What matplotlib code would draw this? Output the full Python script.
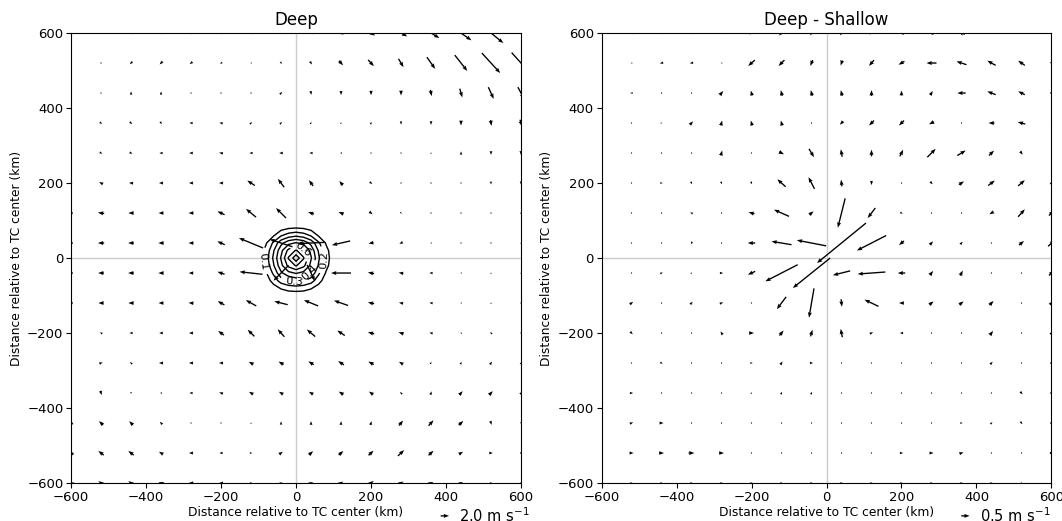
# Storm-relative flow composite: Deep and Deep - Shallow
import numpy as np
import matplotlib
matplotlib.use("Agg")
import matplotlib.pyplot as plt

# grid of the vectors (km from TC center), rows listed from north to south
x_km = np.arange(-600, 601, 80)
y_km = np.arange(600, -601, -80)

# ---- Deep (m/s) ----
u_deep = [
    [0.2, 0.2, 0.2, 0.2, 0.2, 0.2, 0.2, 0.2, 0.8, 1.2, 2.0, 3.0, 4.0, 5.0, 5.9, 6.0],
    [0.3, 0.2, -0.6, -0.7, -0.7, -0.6, -0.4, 0.2, 0.5, 1.0, 1.4, 1.2, 2.0, 3.0, 4.4, 4.5],
    [0.0, 0.2, 0.0, 0.0, 0.0, 0.0, 0.2, 0.5, 0.2, 0.0, 0.0, 0.0, 0.3, 0.6, 1.3, 1.5],
    [0.4, 0.6, 0.6, 0.4, -0.8, -0.8, 0.5, 0.5, 0.4, 0.2, 0.2, 0.0, 0.0, 0.0, 0.2, 0.5],
    [0.3, 0.6, 0.7, -0.8, -0.9, -0.9, -0.8, -0.9, -0.8, -0.5, -0.2, 0.0, 0.1, 0.0, 0.0, 0.0],
    [-0.5, -0.9, -1.0, -1.0, -1.0, -1.0, -1.8, -1.5, -1.0, -0.8, 0.6, 0.3, 0.1, 0.0, 0.1, 0.0],
    [-0.8, -1.5, -1.3, -1.2, -1.2, -1.7, -2.4, -2.4, -1.4, -1.2, 0.8, 0.4, 0.2, 0.1, 0.1, 0.0],
    [-0.8, -1.5, -1.4, -1.3, -1.2, -1.8, -5.8, -5.5, -6.5, -4.4, -1.2, -0.8, -0.4, -0.2, 0.0, 0.0],
    [-0.8, -1.4, -1.4, -1.3, -1.1, -1.7, -5.5, -3.6, 1.9, -4.8, -1.5, -1.1, -0.8, -0.4, 0.0, 0.0],
    [-0.8, -1.3, -1.3, -1.2, -1.2, -1.6, -2.5, -3.2, -3.4, -3.4, -1.5, -1.0, -0.8, -0.4, 0.0, 0.0],
    [-0.4, -0.6, -0.8, -0.9, -1.0, -1.4, -1.6, -1.6, -2.0, -1.8, -1.5, -1.2, -0.8, -0.4, -0.5, 0.0],
    [0.5, 0.8, -0.5, -1.0, -1.0, -1.0, -1.1, -1.2, -1.3, -1.4, -1.3, -1.0, 0.5, 0.3, 0.5, 0.3],
    [0.0, 0.3, 0.0, -0.5, -0.8, -0.9, -1.0, -1.0, -1.0, -1.1, -1.0, -0.5, 0.3, 0.8, 0.9, 0.5],
    [-0.8, -1.0, -0.9, -0.6, 0.0, 0.0, 0.0, 0.0, 0.0, 0.1, 0.3, 1.0, 1.2, 1.1, 0.3, 0.0],
    [-1.0, -1.3, -1.3, -1.0, -1.0, -0.8, 0.6, 0.9, 1.0, 1.1, 1.2, 1.5, 1.2, 1.0, 0.9, 0.5],
    [-1.1, -1.3, -1.3, -1.2, -1.1, -1.0, 0.6, 0.7, 1.0, 1.1, 1.3, 1.2, 1.1, 1.0, 0.6, 0.4],
]
v_deep = [
    [-0.4, -0.4, -0.7, -0.7, -0.7, -0.7, -0.7, -0.6, -0.6, -0.8, -1.2, -1.6, -2.4, -3.5, -4.8, -5.0],
    [0.0, 0.0, -0.6, -0.7, -0.5, -0.2, 0.0, -0.6, -0.7, -1.1, -1.5, -2.0, -2.8, -3.8, -4.8, -5.0],
    [0.3, 0.2, 0.8, 0.8, 0.2, 0.0, 0.2, 0.6, -0.9, -1.0, -1.1, -1.2, -1.5, -2.1, -2.8, -2.8],
    [0.0, -0.4, -0.5, -0.6, 0.0, 0.2, 0.5, 0.5, 0.4, 0.4, 0.6, -0.8, -0.9, -1.2, -1.4, -1.6],
    [0.0, -0.4, -0.3, 0.0, 0.0, 0.2, 0.0, 0.0, 0.0, 0.0, 0.0, 0.2, 0.4, 0.8, -0.9, -1.0],
    [0.2, 0.5, 0.1, 0.0, 0.0, 0.0, 1.2, 2.0, 1.4, 1.0, -0.5, -0.1, 0.1, 0.3, -0.7, -0.8],
    [0.1, 0.2, 0.0, 0.0, 0.0, 0.8, 2.0, 2.4, 0.5, 0.5, -0.6, -0.3, 0.0, 0.0, 0.1, 0.5],
    [0.0, 0.0, 0.0, 0.0, 0.0, 0.8, 2.4, 1.8, -0.3, -1.0, -0.2, -0.4, 0.0, 0.0, 0.3, 0.4],
    [0.0, 0.0, 0.0, 0.0, 0.0, 0.6, 0.6, -3.7, -3.9, 0.0, 0.3, 0.2, 0.0, 0.0, 0.4, 0.4],
    [0.0, 0.0, 0.0, 0.0, 0.1, 0.9, 1.4, 0.8, 1.4, 1.2, 0.3, 0.2, 0.1, 0.0, 0.4, 0.3],
    [0.2, 0.3, 0.0, 0.0, 0.0, 1.0, 1.6, 1.8, 1.7, 1.2, 0.4, 0.4, 0.2, 0.2, 0.4, 0.3],
    [0.3, 0.3, 0.5, 0.0, 0.0, 0.0, 0.6, 0.7, 0.8, 0.9, 0.7, 0.6, 0.3, 0.6, 0.7, 0.5],
    [-0.5, -1.0, -0.5, 0.0, 0.0, 0.3, 0.6, 0.6, 0.6, 0.7, 0.7, 0.5, 0.8, 0.9, 0.9, 0.5],
    [0.6, 0.9, 0.9, 0.6, 0.2, 0.2, 0.4, 0.8, 0.9, 0.9, 0.9, 1.2, 1.3, 1.0, -0.9, -0.5],
    [0.8, 1.0, 1.0, 0.6, 0.0, 0.0, 0.0, 0.6, 0.9, 1.0, 1.1, 1.4, 1.1, 0.6, 0.0, 0.0],
    [0.7, 0.9, 0.9, 0.4, 0.0, 0.0, 0.0, 0.2, 0.4, 0.7, 1.0, 0.7, 0.5, 0.4, 0.0, 0.0],
]

# ---- Deep - Shallow (m/s) ----
u_diff = [
    [0.15, 0.15, 0.15, 0.15, 0.15, -0.3, -0.3, -0.15, -0.15, -0.3, -0.3, -0.4, -0.4, -0.15, -0.15, 0.0],
    [0.0, -0.1, -0.2, -0.2, -0.1, -0.4, -0.35, -0.15, -0.1, -0.3, -0.35, -0.6, -0.6, -0.5, -0.4, -0.2],
    [0.0, -0.15, 0.0, 0.0, 0.2, -0.08, -0.08, -0.08, -0.08, 0.0, 0.0, 0.15, -0.5, -0.5, -0.4, 0.15],
    [0.0, 0.0, 0.1, 0.2, 0.08, -0.08, -0.08, 0.0, -0.2, -0.3, -0.3, -0.3, 0.0, -0.35, -0.45, 0.0],
    [0.0, 0.0, 0.0, 0.0, 0.08, 0.0, 0.3, 0.3, -0.08, 0.0, 0.2, 0.5, 0.5, 0.3, 0.15, 0.0],
    [0.0, 0.0, 0.15, 0.08, 0.08, 0.08, -0.5, -0.36, -0.05, 0.0, 0.08, 0.15, 0.3, 0.4, 0.4, 0.15],
    [0.0, 0.0, 0.0, -0.15, 0.0, -0.35, -0.9, 0.25, -0.44, -0.46, 0.15, 0.0, 0.0, -0.25, 0.4, 0.3],
    [0.0, 0.0, 0.0, -0.08, 0.0, -0.45, -1.2, -1.76, -2.94, -1.76, -0.3, 0.2, 0.15, 0.0, 0.3, 0.4],
    [0.0, 0.0, 0.15, 0.08, 0.2, -0.44, -1.94, -2.24, -1.04, -1.66, -0.45, 0.2, 0.15, 0.0, 0.0, 0.3],
    [0.0, 0.2, 0.0, 0.15, 0.2, 0.0, -0.56, -0.3, 0.05, -0.84, -0.3, 0.25, 0.25, 0.25, 0.0, 0.2],
    [0.0, 0.15, 0.0, 0.0, -0.12, 0.3, 0.25, 0.12, -0.1, 0.2, -0.2, 0.0, 0.0, 0.2, 0.0, 0.15],
    [0.0, 0.0, 0.15, 0.0, 0.0, 0.15, 0.12, 0.2, 0.08, 0.0, 0.0, 0.0, 0.0, 0.15, 0.0, 0.15],
    [0.0, 0.2, 0.0, 0.0, 0.0, 0.08, 0.08, 0.08, 0.08, 0.0, 0.0, 0.0, 0.0, 0.0, 0.15, 0.15],
    [0.0, 0.2, 0.25, 0.08, 0.08, 0.0, 0.0, 0.0, 0.0, 0.0, 0.0, 0.0, 0.15, 0.12, 0.12, 0.15],
    [0.0, 0.25, 0.3, 0.35, 0.3, 0.08, 0.0, 0.0, 0.08, 0.08, 0.2, 0.25, 0.25, 0.08, 0.08, 0.2],
    [0.0, 0.15, 0.15, 0.15, 0.15, 0.15, 0.15, 0.15, 0.15, 0.15, 0.15, 0.15, 0.15, 0.15, 0.0, 0.0],
]
v_diff = [
    [-0.15, -0.15, -0.15, -0.15, -0.15, -0.15, -0.3, -0.3, -0.3, -0.15, 0.0, 0.0, 0.15, 0.0, 0.0, 0.0],
    [0.0, 0.0, -0.05, -0.05, 0.0, -0.35, -0.35, -0.35, -0.3, -0.35, -0.2, 0.0, 0.2, 0.28, 0.28, 0.1],
    [0.0, 0.0, 0.0, 0.0, 0.25, 0.3, 0.35, 0.35, 0.35, 0.35, 0.3, 0.25, 0.0, 0.2, 0.2, 0.0],
    [0.0, 0.0, 0.0, 0.2, 0.3, 0.3, 0.3, 0.0, -0.2, -0.3, -0.3, -0.15, 0.0, 0.0, 0.12, 0.0],
    [0.0, 0.0, 0.0, 0.0, 0.3, 0.0, -0.15, -0.5, 0.45, 0.4, 0.4, 0.5, 0.3, 0.3, -0.2, 0.1],
    [0.0, 0.0, 0.0, -0.15, -0.15, -0.15, 0.45, 0.7, 0.4, -0.25, 0.0, -0.15, 0.2, 0.3, 0.35, 0.1],
    [0.0, 0.0, 0.0, 0.08, 0.0, 0.1, 0.4, 0.2, -1.76, -0.6, -0.08, 0.0, 0.0, -0.15, 0.45, 0.3],
    [0.0, 0.0, 0.0, -0.15, 0.0, 0.0, 0.2, 0.34, -2.4, -0.9, -0.25, 0.2, 0.15, 0.0, 0.25, 0.4],
    [0.0, 0.0, 0.08, 0.08, 0.0, -0.2, -1.0, -1.8, -0.26, -0.12, 0.0, 0.25, 0.3, 0.0, 0.0, 0.3],
    [0.0, 0.15, 0.0, 0.15, 0.08, 0.0, -0.74, -1.76, -0.45, 0.4, 0.0, 0.2, 0.2, 0.25, 0.0, 0.2],
    [0.0, -0.15, 0.0, 0.0, 0.2, 0.0, 0.3, 0.4, 0.5, 0.08, 0.0, 0.0, 0.0, 0.25, 0.0, 0.15],
    [0.0, 0.0, -0.08, 0.0, 0.0, 0.0, 0.2, 0.0, 0.0, 0.0, 0.0, 0.0, 0.0, 0.15, 0.0, 0.0],
    [0.0, 0.0, 0.0, 0.08, 0.0, 0.08, 0.15, 0.15, 0.0, 0.0, 0.0, 0.0, 0.0, 0.0, -0.15, 0.0],
    [0.0, 0.08, 0.0, 0.0, 0.0, 0.0, 0.0, 0.0, 0.0, 0.0, 0.0, 0.0, 0.0, 0.12, -0.15, 0.0],
    [0.0, 0.0, 0.0, 0.0, 0.0, 0.0, 0.0, 0.0, 0.0, 0.0, 0.0, 0.0, 0.08, 0.0, 0.0, 0.0],
    [0.0, 0.0, 0.0, 0.0, 0.0, 0.0, 0.0, 0.0, 0.0, 0.0, 0.0, 0.0, 0.0, 0.0, 0.0, 0.0],
]

# field contoured near the center of the Deep panel, rows from north to south
xc_km = np.arange(-100, 101, 20)
yc_km = np.arange(100, -101, -20)
field_deep = [
    [0.01, 0.01, 0.02, 0.02, 0.03, 0.03, 0.03, 0.02, 0.02, 0.01, 0.01],
    [0.01, 0.01, 0.03, 0.06, 0.09, 0.10, 0.09, 0.06, 0.03, 0.01, 0.01],
    [0.01, 0.03, 0.09, 0.19, 0.25, 0.28, 0.25, 0.19, 0.09, 0.03, 0.01],
    [0.03, 0.09, 0.22, 0.37, 0.47, 0.51, 0.47, 0.37, 0.22, 0.09, 0.03],
    [0.04, 0.13, 0.29, 0.47, 0.63, 0.71, 0.63, 0.47, 0.29, 0.13, 0.04],
    [0.04, 0.15, 0.32, 0.51, 0.71, 0.87, 0.71, 0.51, 0.32, 0.15, 0.04],
    [0.04, 0.13, 0.29, 0.47, 0.63, 0.71, 0.63, 0.47, 0.29, 0.13, 0.04],
    [0.03, 0.09, 0.22, 0.38, 0.47, 0.51, 0.47, 0.38, 0.22, 0.09, 0.03],
    [0.02, 0.05, 0.14, 0.25, 0.31, 0.34, 0.31, 0.25, 0.14, 0.05, 0.02],
    [0.01, 0.02, 0.06, 0.11, 0.14, 0.15, 0.14, 0.11, 0.06, 0.02, 0.01],
    [0.01, 0.01, 0.02, 0.03, 0.04, 0.04, 0.04, 0.03, 0.02, 0.01, 0.01],
]
levels = [0.1, 0.2, 0.3, 0.4, 0.5, 0.6, 0.7, 0.8]
label_spots = [(-87, -8), (75, -5), (-5, -62), (20, 25), (35, -38)]

xx, yy = np.meshgrid(x_km, y_km)

fig = plt.figure(figsize=(10.62, 5.21), dpi=100)
ax1 = fig.add_axes([0.0669, 0.0729, 0.4237, 0.8637])
ax2 = fig.add_axes([0.5664, 0.0729, 0.4237, 0.8637])

panels = [
    (ax1, "Deep", u_deep, v_deep, 0.09, 2.0, 0.84),
    (ax2, "Deep - Shallow", u_diff, v_diff, 0.0225, 0.5, 0.818),
]
for ax, title, u, v, scale, key_val, key_x in panels:
    ax.axvline(0, color="#cccccc", lw=1, zorder=0)
    ax.axhline(0, color="#cccccc", lw=1, zorder=0)
    q = ax.quiver(xx, yy, np.array(u), np.array(v), angles="xy",
                  scale_units="xy", scale=scale, pivot="middle", color="k",
                  width=0.003, headlength=4, headaxislength=3.6)
    ax.quiverkey(q, key_x, -0.073, key_val, f"{key_val:.1f} m s$^{{-1}}$",
                 labelpos="E", coordinates="axes",
                 fontproperties={"size": 10.5})
    ax.set_xlim(-600, 600)
    ax.set_ylim(-600, 600)
    ax.set_xticks(np.arange(-600, 601, 200))
    ax.set_yticks(np.arange(-600, 601, 200))
    ax.tick_params(labelsize=9.5, pad=2)
    ax.set_title(title, fontsize=12)
    ax.set_xlabel("Distance relative to TC center (km)", fontsize=8.8, labelpad=2)
    ax.set_ylabel("Distance relative to TC center (km)", fontsize=8.8, labelpad=3)

# contours only on the Deep panel
cs = ax1.contour(xc_km, yc_km[::-1], np.array(field_deep)[::-1], levels=levels,
                 colors="k", linewidths=1)
ax1.clabel(cs, fmt="%.1f", fontsize=8, inline=True, manual=label_spots)

fig.savefig("out.png", dpi=100)
